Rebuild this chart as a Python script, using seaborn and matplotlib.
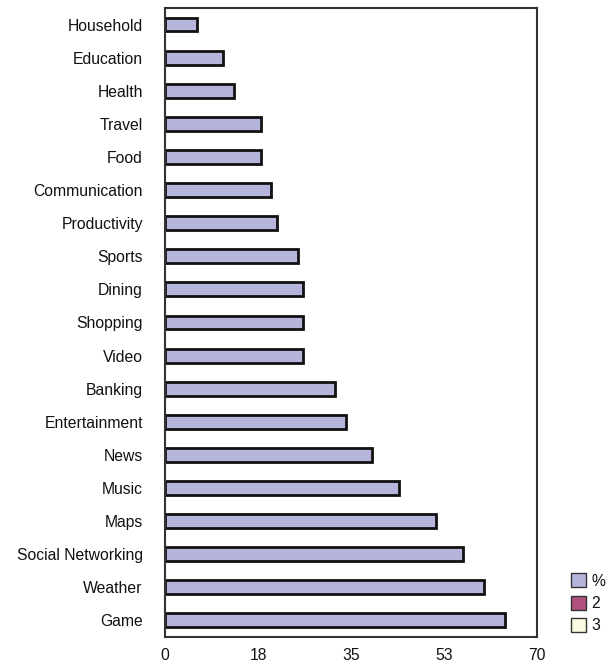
import matplotlib
matplotlib.use("Agg")
import matplotlib.pyplot as plt
from matplotlib.patches import Patch
import seaborn as sns
import pandas as pd

categories = ["Household", "Education", "Health", "Travel", "Food", "Communication",
              "Productivity", "Sports", "Dining", "Shopping", "Video", "Banking",
              "Entertainment", "News", "Music", "Maps", "Social Networking",
              "Weather", "Game"]
values = [6, 11, 13, 18, 18, 20, 21, 25, 26, 26, 26, 32, 34, 39, 44, 51, 56, 60, 64]
series_labels = ["%", "2", "3"]
series_colors = ["#b4b4dc", "#b0507f", "#fafae0"]
xtick_values = [0, 17.5, 35, 52.5, 70]
xtick_labels = ["0", "18", "35", "53", "70"]

sns.set_style("white")
plt.rcParams["font.family"] = ["Liberation Sans", "DejaVu Sans"]
plt.rcParams["text.color"] = "#111111"
plt.rcParams["xtick.color"] = "#111111"
plt.rcParams["ytick.color"] = "#111111"

df = pd.DataFrame({"category": categories, "value": values})

fig = plt.figure(figsize=(6.07, 6.65), dpi=100)
ax = fig.add_axes([0.2718, 0.0421, 0.6129, 0.9459])
sns.barplot(data=df, x="value", y="category", color=series_colors[0],
            edgecolor="#111111", linewidth=2, width=0.42, saturation=1, ax=ax)

ax.set_xlim(0, 70)
ax.set_xticks(xtick_values)
ax.set_xticklabels(xtick_labels, fontsize=11.3)
ax.tick_params(axis="x", direction="inout", length=8, width=1.5, color="#222222",
               labelcolor="#111111", pad=4)
ax.tick_params(axis="y", length=0, labelsize=11.3, labelcolor="#111111", pad=16)
ax.set_xlabel("")
ax.set_ylabel("")
for s in ax.spines.values():
    s.set_visible(True)
    s.set_color("#333333")
    s.set_linewidth(1.5)

handles = [Patch(facecolor=c, edgecolor="#333333", linewidth=1) for c in series_colors]
fig.legend(handles, series_labels, loc="lower left", bbox_to_anchor=(0.93, 0.038),
           frameon=False, fontsize=11.3, handlelength=1.0, handleheight=1.0,
           handletextpad=0.3, labelspacing=0.45, borderaxespad=0)

fig.savefig("out.png", dpi=100)
